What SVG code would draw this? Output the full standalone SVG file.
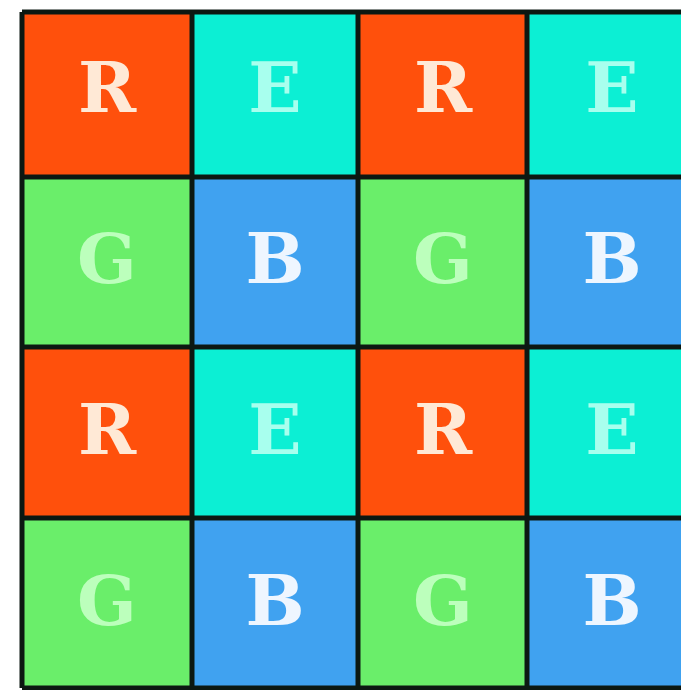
<svg xmlns="http://www.w3.org/2000/svg" width="681" height="690" viewBox="0 0 681 690">
  <style>
    .r { fill: #FF500C; }
    .e { fill: #0CEFD4; }
    .g { fill: #6AEE6A; }
    .b { fill: #40A2F0; }
    .lbl { font-family: "DejaVu Serif", "Liberation Serif", serif; font-weight: bold; font-size: 70px; text-anchor: middle; }
    .tr { fill: #FFE9D6; }
    .te { fill: #A8FFEE; }
    .tg { fill: #BCFFBC; }
    .tb { fill: #EEF6FF; }
    .grid { stroke: #0C1812; stroke-width: 5; fill: none; }
  </style>
  <rect x="0" y="0" width="681" height="690" fill="#FFFFFF"/>
  <g id="row1">
    <g id="c11"><rect class="r" x="22" y="12" width="170" height="165"/><text class="lbl tr" x="107" y="112">R</text></g>
    <g id="c12"><rect class="e" x="192" y="12" width="166" height="165"/><text class="lbl te" x="275" y="112">E</text></g>
    <g id="c13"><rect class="r" x="358" y="12" width="169" height="165"/><text class="lbl tr" x="443" y="112">R</text></g>
    <g id="c14"><rect class="e" x="527" y="12" width="170" height="165"/><text class="lbl te" x="612" y="112">E</text></g>
  </g>
  <g id="row2">
    <g id="c21"><rect class="g" x="22" y="177" width="170" height="170"/><text class="lbl tg" x="107" y="283">G</text></g>
    <g id="c22"><rect class="b" x="192" y="177" width="166" height="170"/><text class="lbl tb" x="275" y="283">B</text></g>
    <g id="c23"><rect class="g" x="358" y="177" width="169" height="170"/><text class="lbl tg" x="443" y="283">G</text></g>
    <g id="c24"><rect class="b" x="527" y="177" width="170" height="170"/><text class="lbl tb" x="612" y="283">B</text></g>
  </g>
  <g id="row3">
    <g id="c31"><rect class="r" x="22" y="347" width="170" height="171"/><text class="lbl tr" x="107" y="454">R</text></g>
    <g id="c32"><rect class="e" x="192" y="347" width="166" height="171"/><text class="lbl te" x="275" y="454">E</text></g>
    <g id="c33"><rect class="r" x="358" y="347" width="169" height="171"/><text class="lbl tr" x="443" y="454">R</text></g>
    <g id="c34"><rect class="e" x="527" y="347" width="170" height="171"/><text class="lbl te" x="612" y="454">E</text></g>
  </g>
  <g id="row4">
    <g id="c41"><rect class="g" x="22" y="518" width="170" height="170"/><text class="lbl tg" x="107" y="625">G</text></g>
    <g id="c42"><rect class="b" x="192" y="518" width="166" height="170"/><text class="lbl tb" x="275" y="625">B</text></g>
    <g id="c43"><rect class="g" x="358" y="518" width="169" height="170"/><text class="lbl tg" x="443" y="625">G</text></g>
    <g id="c44"><rect class="b" x="527" y="518" width="170" height="170"/><text class="lbl tb" x="612" y="625">B</text></g>
  </g>
  <g id="gridlines" class="grid">
    <path d="M22 12 V688 M192 12 V688 M358 12 V688 M527 12 V688"/>
    <path d="M22 12 H681 M22 177 H681 M22 347 H681 M22 518 H681 M22 688 H681"/>
  </g>
</svg>
